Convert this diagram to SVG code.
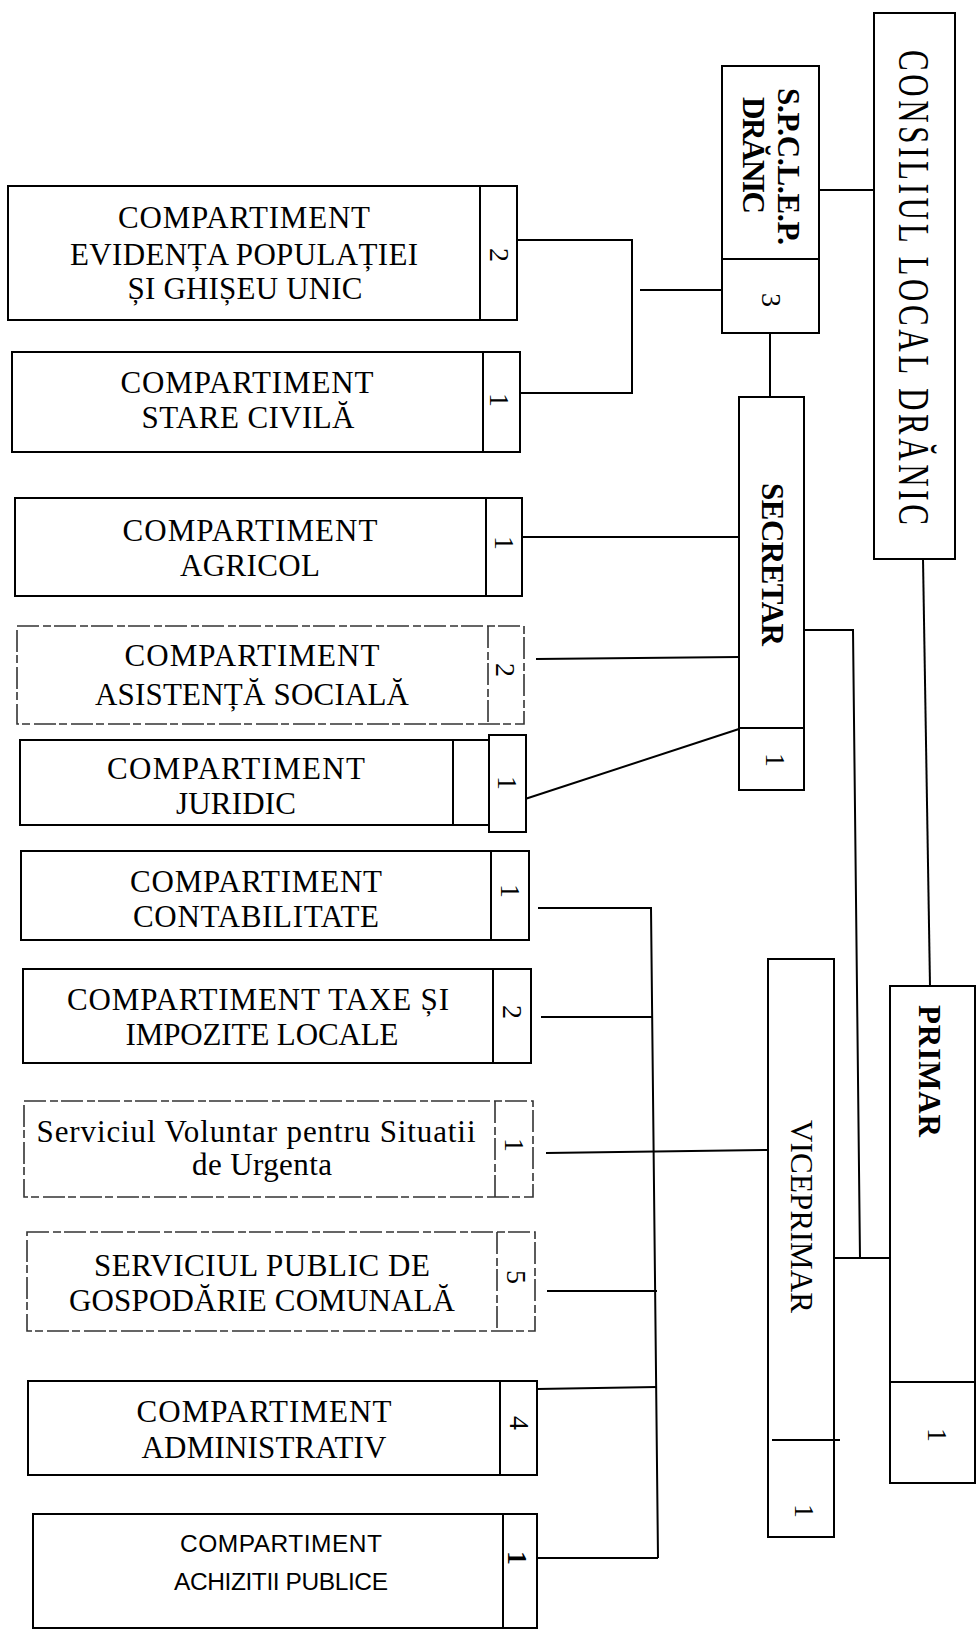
<svg xmlns="http://www.w3.org/2000/svg" width="978" height="1633" viewBox="0 0 978 1633">
<style>
  .box{fill:#fff;stroke:#000;stroke-width:2}
  .faint{fill:#fff;stroke:#333;stroke-width:1.6;stroke-dasharray:22 4 8 3}
  .div{stroke:#000;stroke-width:2;fill:none}
  .divf{stroke:#333;stroke-width:1.6;fill:none;stroke-dasharray:22 4 8 3}
  .ln{stroke:#000;stroke-width:2;fill:none}
  .t{font-family:"Liberation Serif","Times New Roman",serif;font-size:31px;fill:#000;text-anchor:middle}
  .ts{font-family:"Liberation Sans",Arial,sans-serif;font-size:24.5px;fill:#000;text-anchor:middle}
  .v{font-family:"Liberation Serif","Times New Roman",serif;font-size:31px;fill:#000}
  .vb{font-family:"Liberation Serif","Times New Roman",serif;font-size:31px;font-weight:bold;fill:#000}
  .d{font-family:"Liberation Serif","Times New Roman",serif;font-size:28px;fill:#000;text-anchor:middle}
</style>

<g id="connectors">
  <path class="ln" d="M819,190 H874"/>
  <path class="ln" d="M517,240 H632 V393 H520"/>
  <path class="ln" d="M640,290 H722"/>
  <path class="ln" d="M770,333 V397"/>
  <path class="ln" d="M523,537 H739"/>
  <path class="ln" d="M536,659 L739,657"/>
  <path class="ln" d="M522,800 L742,728"/>
  <path class="ln" d="M804,630 H853 L860,1258"/>
  <path class="ln" d="M834,1258 H905"/>
  <path class="ln" d="M923,559 L930,986"/>
  <path class="ln" d="M538,908 H651 L658,1558"/>
  <path class="ln" d="M541,1017 H652"/>
  <path class="ln" d="M546,1153 L768,1150"/>
  <path class="ln" d="M547,1291 H657"/>
  <path class="ln" d="M537,1389 L657,1387"/>
  <path class="ln" d="M537,1558 H658"/>
</g>

<g id="consiliul-local">
  <rect class="box" x="874" y="13" width="81" height="546"/>
  <text class="v" font-size="36.5" textLength="475" transform="translate(899,50) rotate(90) scale(1,1.45)">CONSILIUL LOCAL DRĂNIC</text>
</g>

<g id="spclep">
  <rect class="box" x="722" y="66" width="97" height="267"/>
  <line class="div" x1="722" y1="259" x2="819" y2="259"/>
  <text class="vb" font-size="30" textLength="157" transform="translate(778,88) rotate(90)">S.P.C.L.E.P.</text>
  <text class="vb" font-size="30" textLength="117" transform="translate(743,97) rotate(90)">DRĂNIC</text>
  <text class="d" dy="0.35em" transform="translate(772,300) rotate(90)">3</text>
</g>

<g id="secretar">
  <rect class="box" x="739" y="397" width="65" height="393"/>
  <line class="div" x1="739" y1="728" x2="804" y2="728"/>
  <text class="vb" font-size="30" textLength="163" transform="translate(762,483) rotate(90)">SECRETAR</text>
  <text class="d" dy="0.35em" transform="translate(776,760) rotate(90)">1</text>
</g>

<g id="viceprimar">
  <rect class="box" x="768" y="959" width="66" height="578"/>
  <line class="div" x1="772" y1="1440" x2="840" y2="1440"/>
  <text class="v" textLength="193" transform="translate(791,1120) rotate(90)">VICEPRIMAR</text>
  <text class="d" dy="0.35em" transform="translate(805,1511) rotate(90)">1</text>
</g>

<g id="primar">
  <rect class="box" x="890" y="986" width="85" height="497"/>
  <line class="div" x1="890" y1="1382" x2="975" y2="1382"/>
  <text class="vb" textLength="132" transform="translate(919,1005) rotate(90)">PRIMAR</text>
  <text class="d" dy="0.35em" transform="translate(938,1435) rotate(90)">1</text>
</g>

<g id="evidenta-populatiei">
  <rect class="box" x="8" y="186" width="509" height="134"/>
  <line class="div" x1="480" y1="186" x2="480" y2="320"/>
  <text class="t" x="244" y="228" textLength="252">COMPARTIMENT</text>
  <text class="t" x="244" y="265" textLength="348">EVIDENȚA POPULAȚIEI</text>
  <text class="t" x="245" y="299" textLength="235">ȘI GHIȘEU UNIC</text>
  <text class="d" dy="0.35em" transform="translate(500,255) rotate(90)">2</text>
</g>

<g id="stare-civila">
  <rect class="box" x="12" y="352" width="508" height="100"/>
  <line class="div" x1="483" y1="352" x2="483" y2="452"/>
  <text class="t" x="247" y="393" textLength="253">COMPARTIMENT</text>
  <text class="t" x="248" y="428" textLength="213">STARE CIVILĂ</text>
  <text class="d" dy="0.35em" transform="translate(500,400) rotate(90)">1</text>
</g>

<g id="agricol">
  <rect class="box" x="15" y="498" width="507" height="98"/>
  <line class="div" x1="486" y1="498" x2="486" y2="596"/>
  <text class="t" x="250" y="541" textLength="255">COMPARTIMENT</text>
  <text class="t" x="250" y="576" textLength="140">AGRICOL</text>
  <text class="d" dy="0.35em" transform="translate(505,543) rotate(90)">1</text>
</g>

<g id="asistenta-sociala">
  <rect class="faint" x="17" y="626" width="507" height="98"/>
  <line class="divf" x1="488" y1="626" x2="488" y2="724"/>
  <text class="t" x="252" y="666" textLength="255">COMPARTIMENT</text>
  <text class="t" x="252" y="705" textLength="314">ASISTENȚĂ SOCIALĂ</text>
  <text class="d" dy="0.35em" fill="#444" transform="translate(506,670) rotate(90)">2</text>
</g>

<g id="juridic">
  <rect class="box" x="20" y="740" width="469" height="85"/>
  <line class="div" x1="453" y1="740" x2="453" y2="825"/>
  <rect class="box" x="489" y="735" width="37" height="97"/>
  <text class="t" x="236" y="779" textLength="258">COMPARTIMENT</text>
  <text class="t" x="236" y="814" textLength="120">JURIDIC</text>
  <text class="d" dy="0.35em" transform="translate(508,783) rotate(90)">1</text>
</g>

<g id="contabilitate">
  <rect class="box" x="21" y="851" width="508" height="89"/>
  <line class="div" x1="491" y1="851" x2="491" y2="940"/>
  <text class="t" x="256" y="892" textLength="252">COMPARTIMENT</text>
  <text class="t" x="256" y="927" textLength="246">CONTABILITATE</text>
  <text class="d" dy="0.35em" transform="translate(511,891) rotate(90)">1</text>
</g>

<g id="taxe-impozite">
  <rect class="box" x="23" y="969" width="508" height="94"/>
  <line class="div" x1="493" y1="969" x2="493" y2="1063"/>
  <text class="t" x="258" y="1010" textLength="382">COMPARTIMENT TAXE ȘI</text>
  <text class="t" x="262" y="1045" textLength="273">IMPOZITE LOCALE</text>
  <text class="d" dy="0.35em" transform="translate(513,1012) rotate(90)">2</text>
</g>

<g id="serviciul-voluntar">
  <rect class="faint" x="24" y="1101" width="509" height="96"/>
  <line class="divf" x1="495" y1="1101" x2="495" y2="1197"/>
  <text class="t" font-size="28" x="256" y="1142" textLength="439">Serviciul Voluntar pentru Situatii</text>
  <text class="t" font-size="28" x="262" y="1175" textLength="140">de Urgenta</text>
  <text class="d" dy="0.35em" transform="translate(515,1145) rotate(90)">1</text>
</g>

<g id="serviciul-public">
  <rect class="faint" x="27" y="1232" width="508" height="99"/>
  <line class="divf" x1="497" y1="1232" x2="497" y2="1331"/>
  <text class="t" x="262" y="1276" textLength="336">SERVICIUL PUBLIC DE</text>
  <text class="t" x="262" y="1311" textLength="386">GOSPODĂRIE COMUNALĂ</text>
  <text class="d" dy="0.35em" fill="#444" transform="translate(517,1277) rotate(90)">5</text>
</g>

<g id="administrativ">
  <rect class="box" x="28" y="1381" width="509" height="94"/>
  <line class="div" x1="500" y1="1381" x2="500" y2="1475"/>
  <text class="t" x="264" y="1422" textLength="255">COMPARTIMENT</text>
  <text class="t" x="264" y="1458" textLength="245">ADMINISTRATIV</text>
  <text class="d" dy="0.35em" transform="translate(520,1423) rotate(90)">4</text>
</g>

<g id="achizitii-publice">
  <rect class="box" x="33" y="1514" width="504" height="114"/>
  <line class="div" x1="503" y1="1514" x2="503" y2="1628"/>
  <text class="ts" x="281" y="1552" textLength="202">COMPARTIMENT</text>
  <text class="ts" x="281" y="1590" textLength="214">ACHIZITII PUBLICE</text>
  <text class="d" font-weight="bold" dy="0.35em" transform="translate(518,1558) rotate(90)">1</text>
</g>
</svg>
